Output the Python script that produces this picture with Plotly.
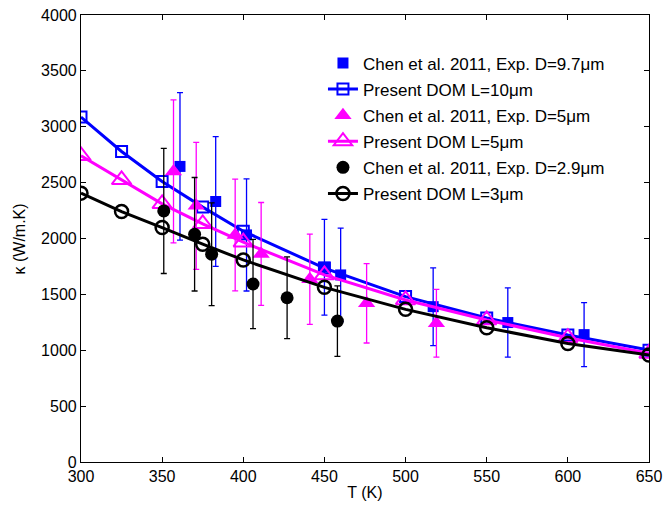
import plotly.graph_objects as go

# DOM model temperatures
T_dom = [300, 325, 350, 375, 400, 450, 500, 550, 600, 650]
k_dom_10 = [3087, 2779, 2510, 2281, 2065, 1735, 1480, 1288, 1136, 1001]
k_dom_5 = [2740, 2525, 2310, 2131, 1967, 1674, 1450, 1271, 1112, 972]
k_dom_3 = [2406, 2241, 2098, 1949, 1808, 1563, 1366, 1201, 1061, 957]

# Chen et al. 2011 experiments
T_exp_97 = [361, 383, 402, 450, 460, 517, 563, 610]
k_exp_97 = [2645, 2331, 2032, 1743, 1674, 1390, 1248, 1140]
err_97 = [660, 580, 502, 428, 418, 348, 310, 287]

T_exp_5 = [357, 371, 395, 411, 441, 476, 519]
k_exp_5 = [2600, 2292, 2032, 1862, 1635, 1420, 1241]
err_5 = [640, 568, 500, 460, 404, 355, 303]

T_exp_29 = [351, 370, 380.5, 406, 427, 458]
k_exp_29 = [2247, 2038, 1859, 1593, 1470, 1261]
err_29 = [560, 508, 460, 400, 366, 315]

BLUE = "#0000FF"
MAG = "#FF00FF"
BLK = "#000000"
FONT = "Liberation Sans, Arial, Helvetica, sans-serif"

def ebar(vals, color):
    return dict(type="data", array=vals, visible=True, color=color, thickness=1.3, width=3)

fig = go.Figure()
fig.add_trace(go.Scatter(x=T_exp_97, y=k_exp_97, mode="markers", name="Chen et al. 2011, Exp. D=9.7\u03bcm",
                         legendgroup="a",
                         marker=dict(symbol="square", size=11, color=BLUE), error_y=ebar(err_97, BLUE)))
fig.add_trace(go.Scatter(x=T_dom, y=k_dom_10, mode="lines+markers", name="Present DOM L=10\u03bcm",
                         legendgroup="b",
                         line=dict(color=BLUE, width=3),
                         marker=dict(symbol="square-open", size=11, color=BLUE, line=dict(width=2, color=BLUE))))
fig.add_trace(go.Scatter(x=T_exp_5, y=k_exp_5, mode="markers", name="Chen et al. 2011, Exp. D=5\u03bcm",
                         legendgroup="c",
                         marker=dict(symbol="triangle-up", size=15, color=MAG), error_y=ebar(err_5, MAG)))
fig.add_trace(go.Scatter(x=T_dom, y=k_dom_5, mode="lines+markers", name="Present DOM L=5\u03bcm",
                         legendgroup="d",
                         line=dict(color=MAG, width=3),
                         marker=dict(symbol="triangle-up-open", size=17, color=MAG, line=dict(width=2, color=MAG))))
fig.add_trace(go.Scatter(x=T_exp_29, y=k_exp_29, mode="markers", name="Chen et al. 2011, Exp. D=2.9\u03bcm",
                         legendgroup="e",
                         marker=dict(symbol="circle", size=13, color=BLK), error_y=ebar(err_29, BLK)))
fig.add_trace(go.Scatter(x=T_dom, y=k_dom_3, mode="lines+markers", name="Present DOM L=3\u03bcm",
                         legendgroup="f",
                         line=dict(color=BLK, width=3),
                         marker=dict(symbol="circle-open", size=13, color=BLK, line=dict(width=2.5, color=BLK))))

axis_common = dict(showgrid=False, zeroline=False, showline=True, linecolor="black", linewidth=1.2,
                   mirror="ticks", ticks="inside", ticklen=5, tickcolor="black", automargin=False,
                   tickfont=dict(family=FONT, size=16, color="black"))

fig.update_layout(
    width=663, height=506,
    margin=dict(l=81, r=14, t=15, b=44),
    paper_bgcolor="white", plot_bgcolor="white",
    font=dict(family=FONT, size=16, color="black"),
    xaxis=dict(range=[300, 650], tickmode="array", tickvals=[300, 350, 400, 450, 500, 550, 600, 650],
               title=dict(text="T (K)", standoff=2, font=dict(size=16)), **axis_common),
    yaxis=dict(range=[0, 4000], tickmode="array", tickvals=[0, 500, 1000, 1500, 2000, 2500, 3000, 3500, 4000],
               **axis_common),
    legend=dict(x=0.426, y=0.932, xanchor="left", yanchor="top", bgcolor="rgba(0,0,0,0)",
                borderwidth=0, font=dict(family=FONT, size=17), tracegroupgap=1),
    showlegend=True,
    annotations=[dict(text="\u03ba (W/m.K)", xref="paper", yref="paper", x=-0.1074, y=0.5,
                      xanchor="center", yanchor="middle", textangle=-90, showarrow=False,
                      font=dict(family=FONT, size=16, color="black"))],
)

fig.write_html("out.html")
